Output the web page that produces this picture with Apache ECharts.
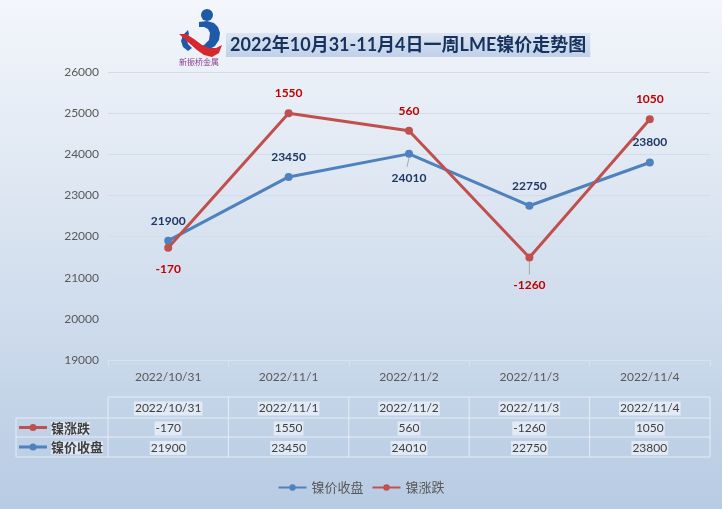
<!DOCTYPE html>
<html>
<head>
<meta charset="utf-8">
<script src="https://cdn.jsdelivr.net/npm/echarts@6/dist/echarts.min.js"></script>
<style>
html,body{margin:0;padding:0;}
#c{width:722px;height:509px;}
</style>
</head>
<body>
<div id="c"></div>
<script>
// ---- data ----
const categories = ['2022/10/31', '2022/11/1', '2022/11/2', '2022/11/3', '2022/11/4'];
const closePrices = [21900, 23450, 24010, 22750, 23800];   // 镍价收盘
const priceChanges = [-170, 1550, 560, -1260, 1050];      // 镍涨跌
const yMin = 19000, yMax = 26000, yStep = 1000;
const titleText = '2022年10月31-11月4日一周LME镍价走势图';
const seriesNames = ['镍价收盘', '镍涨跌'];
const logoText = '新振桥金属';

const FONT = 'Lato, "Noto Sans CJK SC", sans-serif';
const BLUE = '#4f81bd', RED = '#c0504d';

const chart = echarts.init(document.getElementById('c'));

const blueLabelPos = ['top', 'top', 'bottom', 'top', 'top'];
const blueLabelDist = [10, 10, 14, 10, 10];
const redLabelPos = ['bottom', 'top', 'top', 'bottom', 'top'];
const redLabelDist = [11, 10, 10, 18, 10];

const option = {
  animation: false,
  backgroundColor: {
    type: 'linear', x: 0, y: 0, x2: 0, y2: 1,
    colorStops: [
      {offset: 0, color: '#f3f6fb'},
      {offset: 0.5, color: '#d6e1ef'},
      {offset: 1, color: '#b7cbe3'}
    ]
  },
  title: {
    text: titleText,
    left: 226, top: 33,
    padding: [3, 4, 3, 4],
    backgroundColor: {
      type: 'linear', x: 0, y: 0, x2: 0, y2: 1,
      colorStops: [{offset: 0, color: '#dbe5f3'}, {offset: 1, color: '#bfd0e8'}]
    },
    textStyle: {color: '#17325c', fontSize: 18, fontWeight: 'bold', fontFamily: FONT}
  },
  legend: {
    data: seriesNames,
    bottom: 10,
    left: 'center',
    itemWidth: 28, itemHeight: 8, itemGap: 8,
    textStyle: {color: '#595959', fontSize: 13, fontFamily: FONT}
  },
  grid: {left: 108, right: 12, top: 72, bottom: 149},
  xAxis: {
    type: 'category',
    data: categories,
    boundaryGap: true,
    axisLine: {lineStyle: {color: '#d9e2ee', width: 1}},
    axisTick: {show: true, interval: 0, length: 6, lineStyle: {color: '#d9e2ee'}},
    axisLabel: {color: '#595959', fontSize: 12, fontFamily: FONT, margin: 11, interval: 0},
    splitLine: {show: false}
  },
  yAxis: {
    type: 'value',
    min: yMin, max: yMax, interval: yStep,
    axisLine: {show: false},
    axisTick: {show: false},
    axisLabel: {color: '#595959', fontSize: 12, fontFamily: FONT, margin: 9, formatter: v => String(v)},
    splitLine: {lineStyle: {color: '#d3dce8', width: 1}}
  },
  series: [
    {
      name: seriesNames[0],
      type: 'line',
      stack: 'total',
      stackStrategy: 'all',
      data: closePrices.map((v, i) => ({value: v, label: {position: blueLabelPos[i], distance: blueLabelDist[i]}})),
      symbol: 'circle', symbolSize: 8,
      lineStyle: {color: BLUE, width: 3},
      itemStyle: {color: BLUE},
      label: {show: true, color: '#1f3864', fontWeight: 'bold', fontSize: 12, fontFamily: FONT, distance: 10}
    },
    {
      name: seriesNames[1],
      type: 'line',
      stack: 'total',
      stackStrategy: 'all',
      data: priceChanges.map((v, i) => ({value: v, label: {position: redLabelPos[i], distance: redLabelDist[i]}})),
      symbol: 'circle', symbolSize: 8,
      lineStyle: {color: RED, width: 3},
      itemStyle: {color: RED},
      label: {show: true, color: '#c00000', fontWeight: 'bold', fontSize: 12, fontFamily: FONT, distance: 10}
    }
  ]
};
chart.setOption(option);

// ---- data table + logo drawn from the axis scale ----
function buildGraphics() {
  const centers = categories.map(c => chart.convertToPixel({xAxisIndex: 0}, c));
  const step = centers[1] - centers[0];
  const bounds = [centers[0] - step / 2];
  centers.forEach(c => bounds.push(c + step / 2));
  const leftEdge = 16;
  const right = bounds[bounds.length - 1];
  const rowTop = [397, 418, 437, 457];
  const lineColor = 'rgba(235,241,249,0.85)';
  const els = [];
  const line = (x1, y1, x2, y2, color) => els.push({type: 'line', silent: true,
    shape: {x1, y1, x2, y2}, style: {stroke: color || lineColor, lineWidth: 1}});
  line(bounds[0], rowTop[0], right, rowTop[0]);
  for (let r = 1; r < 4; r++) line(leftEdge, rowTop[r], right, rowTop[r]);
  bounds.forEach(b => line(b, rowTop[0], b, rowTop[3]));
  line(leftEdge, rowTop[1], leftEdge, rowTop[3]);

  // leader lines for the two labels moved away from their points
  const lp1 = chart.convertToPixel({xAxisIndex: 0, yAxisIndex: 0}, [categories[2], closePrices[2]]);
  line(lp1[0], lp1[1] + 4, lp1[0] - 2, lp1[1] + 13, '#a6a6a6');
  const lp2 = chart.convertToPixel({xAxisIndex: 0, yAxisIndex: 0}, [categories[3], closePrices[3] + priceChanges[3]]);
  line(lp2[0], lp2[1] + 4, lp2[0], lp2[1] + 17, '#a6a6a6');

  const cellText = (x, y, t) => els.push({type: 'text', silent: true,
    style: {x, y, text: String(t), fill: '#404040', font: '12px ' + FONT,
      textAlign: 'center', textVerticalAlign: 'middle',
      backgroundColor: 'rgba(236,242,250,0.75)', padding: [1, 1]}});
  centers.forEach((c, i) => {
    cellText(c, (rowTop[0] + rowTop[1]) / 2 + 1, categories[i]);
    cellText(c, (rowTop[1] + rowTop[2]) / 2 + 1, priceChanges[i]);
    cellText(c, (rowTop[2] + rowTop[3]) / 2 + 1, closePrices[i]);
  });
  const rows = [{name: seriesNames[1], color: RED, y: (rowTop[1] + rowTop[2]) / 2},
                {name: seriesNames[0], color: BLUE, y: (rowTop[2] + rowTop[3]) / 2}];
  rows.forEach(r => {
    els.push({type: 'line', silent: true, shape: {x1: 19, y1: r.y, x2: 47, y2: r.y},
      style: {stroke: r.color, lineWidth: 3}});
    els.push({type: 'circle', silent: true, shape: {cx: 33, cy: r.y, r: 3.5},
      style: {fill: r.color}});
    els.push({type: 'text', silent: true, style: {x: 51, y: r.y + 1, text: r.name,
      fill: '#404040', font: 'bold 13px ' + FONT, textVerticalAlign: 'middle',
      backgroundColor: 'rgba(236,242,250,0.7)'}});
  });

  // logo
  const logo = [
    {type: 'circle', shape: {cx: 207, cy: 15, r: 6}, style: {fill: '#1e5aa8'}},
    {type: 'polygon', shape: {points: [[199,22],[207,21],[214,23],[218,27],[220,33],[219,40],[215,46],[208,50],[200,52],[197,48],[204,45],[209,40],[210,33],[208,29],[204,27],[199,27]]}, style: {fill: '#1e5aa8'}},
    {type: 'polygon', shape: {points: [[188,30],[183,35],[181,41],[183,47],[188,51],[192,48],[188,44],[187,39],[189,34]]}, style: {fill: '#1e5aa8'}},
    {type: 'polygon', shape: {points: [[179,34],[186,34],[194,39],[202,45],[209,48],[216,48],[222,45],[219,53],[212,57],[204,55],[197,50],[189,43]]}, style: {fill: '#d7282f'}},
    {type: 'text', style: {x: 199, y: 62, text: logoText, fill: '#8a3c8c', font: '8px "Noto Sans CJK SC", sans-serif', textAlign: 'center', textVerticalAlign: 'middle'}}
  ];
  logo.forEach(e => { e.silent = true; els.push(e); });
  chart.setOption({graphic: {elements: els}});
}
buildGraphics();
</script>
</body>
</html>
